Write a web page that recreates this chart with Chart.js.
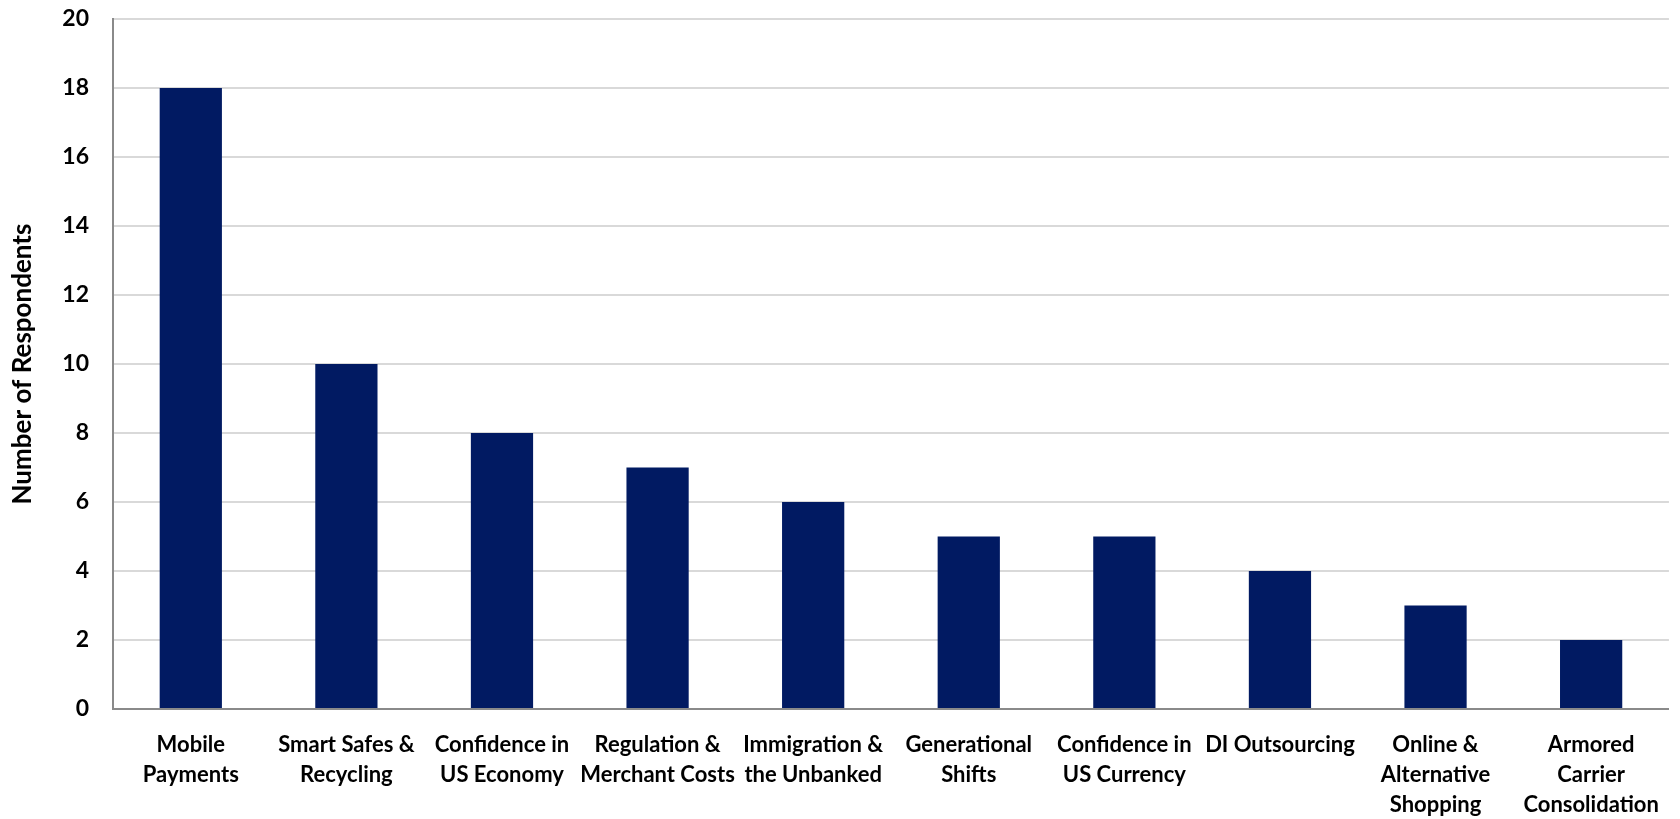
<!DOCTYPE html>
<html>
<head>
<meta charset="utf-8">
<script src="https://cdn.jsdelivr.net/npm/chart.js@4/dist/chart.umd.min.js"></script>
<style>
  html, body { margin: 0; padding: 0; background: #ffffff; }
  #wrap { width: 1680px; height: 819px; position: relative; }
</style>
</head>
<body>
<div id="wrap"><canvas id="chart"></canvas></div>
<script>
// Survey drivers, one entry per bar (multi-line labels as drawn under the axis)
const categories = [
  ["Mobile", "Payments"],
  ["Smart Safes &", "Recycling"],
  ["Confidence in", "US Economy"],
  ["Regulation &", "Merchant Costs"],
  ["Immigration &", "the Unbanked"],
  ["Generational", "Shifts"],
  ["Confidence in", "US Currency"],
  ["DI Outsourcing"],
  ["Online &", "Alternative", "Shopping"],
  ["Armored", "Carrier", "Consolidation"]
];
const respondents = [18, 10, 8, 7, 6, 5, 5, 4, 3, 2];
const yTicks = [0, 2, 4, 6, 8, 10, 12, 14, 16, 18, 20];

const FONT = "Lato, 'Liberation Sans', sans-serif";

new Chart(document.getElementById("chart"), {
  type: "bar",
  data: {
    labels: categories,
    datasets: [{
      label: "Number of Respondents",
      data: respondents,
      backgroundColor: "#011a62",
      borderWidth: 0,
      categoryPercentage: 1.0,
      barPercentage: 0.4
    }]
  },
  options: {
    responsive: true,
    maintainAspectRatio: false,
    animation: false,
    layout: { padding: { top: 0, right: 3, left: 0, bottom: 0 } },
    plugins: {
      legend: { display: false },
      tooltip: { enabled: false }
    },
    scales: {
      x: {
        grid: { display: false, drawTicks: false },
        border: { display: true, color: "#8a8a8a", width: 2 },
        ticks: {
          color: "#000000",
          font: { family: FONT, size: 22, weight: "bold", lineHeight: 1.36 },
          padding: 21,
          maxRotation: 0,
          autoSkip: false
        },
        afterFit: (scale) => { scale.height = 110; }
      },
      y: {
        min: 0,
        max: 20,
        afterBuildTicks: (scale) => { scale.ticks = yTicks.map(v => ({ value: v })); },
        grid: { color: "#d9d9d9", lineWidth: 2, drawTicks: false },
        border: { display: true, color: "#8a8a8a", width: 2 },
        ticks: {
          color: "#000000",
          font: { family: FONT, size: 23, weight: "bold" },
          padding: 24
        },
        title: {
          display: true,
          text: "Number of Respondents",
          color: "#000000",
          font: { family: FONT, size: 26, weight: "bold" },
          padding: { top: 7, bottom: 0 }
        },
        afterFit: (scale) => {
          scale.width = 113;
          scale.paddingTop = 19;
          scale.paddingBottom = 0;
        }
      }
    }
  }
});
</script>
</body>
</html>
